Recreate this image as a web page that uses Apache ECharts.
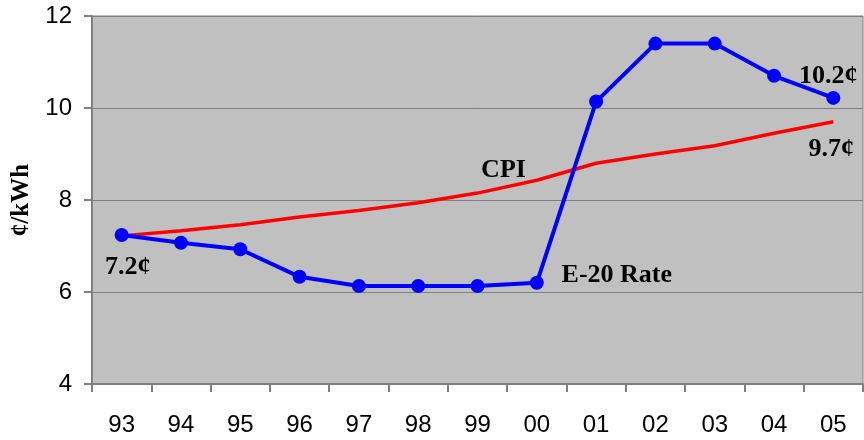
<!DOCTYPE html>
<html>
<head>
    <meta charset="UTF-8">
    <title>E-20 Rate vs CPI</title>
    <script src="https://cdn.jsdelivr.net/npm/echarts@6/dist/echarts.min.js"></script>
</head>
<body style="margin:0; background:#fff;">
    <div id="main" style="width: 864px;height:440px;"></div>
    <script type="text/javascript">
        // 年份 (x 轴)
        var years = ['93', '94', '95', '96', '97', '98', '99', '00', '01', '02', '03', '04', '05'];
        // E-20 电价 (¢/kWh)
        var e20Rate = [7.24, 7.07, 6.93, 6.33, 6.13, 6.13, 6.13, 6.2, 10.14, 11.4, 11.4, 10.7, 10.22];
        // CPI 曲线
        var cpi = [7.22, 7.33, 7.46, 7.63, 7.77, 7.94, 8.15, 8.43, 8.8, 9.0, 9.18, 9.45, 9.7];

        var labelFont = {
            fontFamily: 'Liberation Serif',
            fontWeight: 'bold',
            fontSize: 26,
            color: '#000'
        };

        // 某个点上的文字
        function tag(text, offset) {
            return Object.assign({ show: true, position: 'inside', formatter: text, offset: offset }, labelFont);
        }

        var e20Data = e20Rate.map(function (v, i) {
            var item = { value: v };
            if (i === 0) item.label = tag('7.2¢', [6, 32]);
            if (i === 7) item.label = tag('E-20 Rate', [80, -8]);
            if (i === years.length - 1) item.label = tag('10.2¢', [-5, -22]);
            return item;
        });
        var cpiData = cpi.map(function (v, i) {
            var item = { value: v };
            if (i === 6) item.label = tag('CPI', [26, -23]);
            if (i === years.length - 1) item.label = tag('9.7¢', [-2, 27]);
            return item;
        });

        var myChart = echarts.init(document.getElementById('main'));
        myChart.setOption({
            animation: false,
            grid: {
                left: 92, right: 1, top: 16, bottom: 56,
                outerBoundsMode: 'none',
                show: true,
                backgroundColor: '#c0c0c0',
                borderColor: '#808080',
                borderWidth: 1
            },
            xAxis: {
                type: 'category',
                data: years,
                boundaryGap: true,
                axisLine: { lineStyle: { color: '#808080', width: 2 } },
                axisTick: { show: true, length: 8, lineStyle: { color: '#808080', width: 2 } },
                axisLabel: { margin: 29, fontFamily: 'Liberation Sans', fontSize: 24, color: '#000' }
            },
            yAxis: {
                type: 'value',
                min: 4, max: 12, interval: 2,
                name: '¢/kWh',
                nameLocation: 'middle',
                nameGap: 56,
                nameRotate: 90,
                nameTextStyle: { fontFamily: 'Liberation Serif', fontWeight: 'bold', fontSize: 25, color: '#000' },
                axisLine: { show: true, lineStyle: { color: '#808080', width: 2 } },
                axisTick: { show: true, length: 8, lineStyle: { color: '#808080', width: 2 } },
                axisLabel: { margin: 20, fontFamily: 'Liberation Sans', fontSize: 24, color: '#000' },
                splitLine: { lineStyle: { color: '#808080', width: 1 } }
            },
            series: [
                {
                    name: 'CPI',
                    type: 'line',
                    data: cpiData,
                    symbol: 'circle',
                    symbolSize: 0,
                    showSymbol: true,
                    lineStyle: { color: '#ff0000', width: 3.5 },
                    itemStyle: { color: '#ff0000' },
                    label: { show: false },
                    emphasis: { disabled: true }
                },
                {
                    name: 'E-20 Rate',
                    type: 'line',
                    data: e20Data,
                    symbol: 'circle',
                    symbolSize: 14,
                    lineStyle: { color: '#0000ff', width: 4 },
                    itemStyle: { color: '#0000ff' },
                    label: { show: false },
                    emphasis: { disabled: true }
                }
            ]
        });
    </script>
</body>
</html>
